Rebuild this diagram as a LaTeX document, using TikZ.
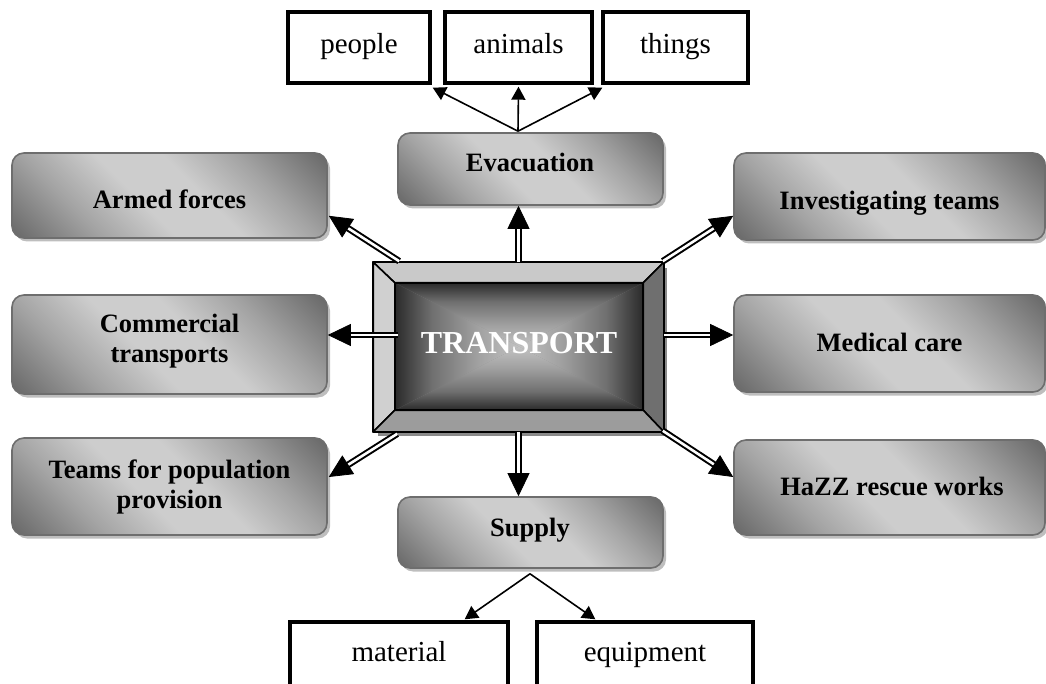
\documentclass[tikz,border=0pt]{standalone}
\usepackage{fontspec}
\setmainfont{Liberation Serif}
\usetikzlibrary{calc,shadows,arrows.meta}

% greys of the rounded tiles
\definecolor{tiledark}{HTML}{686868}
\definecolor{tilemid}{HTML}{A4A4A4}
\definecolor{tilelight}{HTML}{CDCDCD}
\definecolor{tileedge}{HTML}{6E6E6E}
\definecolor{tileshadow}{HTML}{BEBEBE}
% greys of the bevelled hub
\definecolor{corelight}{HTML}{C2C2C2}
\definecolor{coremidA}{HTML}{A0A0A0}
\definecolor{coremidB}{HTML}{707070}
\definecolor{coredark}{HTML}{2A2A2A}
\definecolor{bevtop}{HTML}{C9C9C9}
\definecolor{bevleft}{HTML}{D0D0D0}
\definecolor{bevright}{HTML}{6F6F6F}
\definecolor{bevbottom}{HTML}{9C9C9C}
\definecolor{hubshadow}{HTML}{8A8A8A}

% dark - light - dark band, used diagonally on the tiles
\pgfdeclareverticalshading{tileshade}{100bp}{color(0bp)=(tiledark); color(15bp)=(tiledark);
  color(31bp)=(tilemid); color(44bp)=(tilelight); color(56bp)=(tilelight);
  color(69bp)=(tilemid); color(85bp)=(tiledark); color(100bp)=(tiledark)}
% light centre to dark rim, one quarter of the hub face
\pgfdeclareverticalshading{coreshade}{100bp}{color(0bp)=(corelight); color(25bp)=(corelight);
  color(42bp)=(coremidA); color(60bp)=(coremidB); color(75bp)=(coredark); color(100bp)=(coredark)}

\newcommand\tilefont{\fontsize{26.5}{30}\selectfont\bfseries}
\newcommand\leaffont{\fontsize{29}{33}\selectfont}
\newcommand\hubfont{\fontsize{32}{36}\selectfont\bfseries}

\begin{document}
\begin{tikzpicture}[x=1pt,y=-1pt,
  tile/.style={shape=rectangle, rounded corners=12pt, draw=tileedge, line width=1.6pt,
    shade, shading=tileshade, shading angle=-45,
    drop shadow={shadow xshift=3pt, shadow yshift=-3.5pt, fill=tileshadow, opacity=1},
    inner sep=0pt},
  tiletext/.style={font=\tilefont, align=center, inner sep=0pt, text=black},
  leaf/.style={draw=black, line width=3.4pt, fill=white, inner sep=0pt, font=\leaffont,
    text height=20pt, text depth=7pt},
  bevel/.style={draw=black, line width=1.6pt, line join=round},
  twin/.style={draw=black, double=white, line width=2pt, double distance=2.6pt, shorten >=22pt},
  twintip/.style={draw=black, line width=0.8pt, -{Triangle[length=23pt,width=22pt]}},
  thin/.style={draw=black, line width=1.6pt, -{Triangle[length=13pt,width=14pt]}},
]
\useasboundingbox (0,0) rectangle (1046,684);
\clip (0,0) rectangle (1046,684);

% outlined leaf boxes
\node[leaf, minimum width=142pt, minimum height=71pt] (people)  at (359,47.5)   {people};
\node[leaf, minimum width=147pt, minimum height=71pt] (animals) at (518.5,47.5) {animals};
\node[leaf, minimum width=145pt, minimum height=71pt] (things)  at (675.5,47.5) {things};
\node[leaf, minimum width=218pt, minimum height=66pt] (material)  at (399,655) {material};
\node[leaf, minimum width=216pt, minimum height=66pt] (equipment) at (645,655) {equipment};

% shaded tiles
\node[tile, minimum width=315pt, minimum height=85pt] (armed)         at (169.5,195.5) {};
\node[tile, minimum width=315pt, minimum height=99pt] (commercial)    at (169.5,344.5) {};
\node[tile, minimum width=315pt, minimum height=97pt] (teams)         at (169.5,486.5) {};
\node[tile, minimum width=311pt, minimum height=87pt] (investigating) at (889.5,196.5) {};
\node[tile, minimum width=311pt, minimum height=97pt] (medical)       at (889.5,343.5) {};
\node[tile, minimum width=311pt, minimum height=95pt] (hazz)          at (889.5,487.5) {};
\node[tile, minimum width=265pt, minimum height=72pt] (evac)          at (530.5,169)   {};
\node[tile, minimum width=265pt, minimum height=71pt] (supply)        at (530.5,532.5) {};

\node[tiletext, anchor=base] (armed-t)         at (169.5,209) {Armed forces};
\node[tiletext]              (commercial-t)    at (169.5,341.5) {Commercial\\transports};
\node[tiletext]              (teams-t)         at (169.5,486.5) {Teams for population\\provision};
\node[tiletext, anchor=base] (investigating-t) at (889.5,210) {Investigating teams};
\node[tiletext, anchor=base] (medical-t)       at (889.5,351) {Medical care};
\node[tiletext, anchor=base] (hazz-t)          at (892,495) {HaZZ rescue works};
\node[tiletext, anchor=base] (evac-t)          at (530,172) {Evacuation};
\node[tiletext, anchor=base] (supply-t)        at (530,536) {Supply};

% bevelled hub
\node[draw=black, line width=1.6pt, minimum width=289pt, minimum height=168pt, inner sep=0pt,
  drop shadow={shadow xshift=4pt, shadow yshift=-5pt, fill=hubshadow, opacity=1}] (hub) at (518.5,347) {};
\node[inner sep=0pt, minimum width=248pt, minimum height=127pt] (core) at (519,346.5) {};
\filldraw[bevel, fill=bevtop]    (hub.north west) -- (hub.north east) -- (core.north east) -- (core.north west) -- cycle;
\filldraw[bevel, fill=bevleft]   (hub.north west) -- (hub.south west) -- (core.south west) -- (core.north west) -- cycle;
\filldraw[bevel, fill=bevright]  (hub.north east) -- (hub.south east) -- (core.south east) -- (core.north east) -- cycle;
\filldraw[bevel, fill=bevbottom] (hub.south west) -- (hub.south east) -- (core.south east) -- (core.south west) -- cycle;
\shade[shading=coreshade]                     (core.north west) -- (core.north east) -- (core.center) -- cycle;
\shade[shading=coreshade, shading angle=180]  (core.south west) -- (core.south east) -- (core.center) -- cycle;
\shade[shading=coreshade, shading angle=90]   (core.north west) -- (core.south west) -- (core.center) -- cycle;
\shade[shading=coreshade, shading angle=-90]  (core.north east) -- (core.south east) -- (core.center) -- cycle;
\draw[bevel] (core.north west) rectangle (core.south east);
\draw[bevel] (hub.north west) rectangle (hub.south east);
\node[font=\hubfont, text=white, anchor=base, inner sep=0pt] (hub-t) at (519,353) {TRANSPORT};

% double arrows from the hub
\newcommand\twinarrow[2]{%
  \draw[twin] #1 -- #2;
  \draw[twintip] ($#2!22pt!#1$) -- #2;}
\twinarrow{(hub.north)}{(hub.north |- evac.south)}
\twinarrow{(hub.south)}{(hub.south |- supply.north)}
\twinarrow{($(hub.north west)+(26,-1)$)}{($(armed.south east)+(1,-23)$)}
\twinarrow{($(hub.north east)+(-1,-1)$)}{($(investigating.south west)+(0,-25)$)}
\twinarrow{($(core.west)+(3,-11.5)$)}{($(commercial.east)+(0,-9.5)$)}
\twinarrow{($(hub.east)+(0,-12)$)}{($(medical.west)+(0,-8.5)$)}
\twinarrow{($(hub.south west)+(24,2)$)}{($(teams.east)+(1,-9.5)$)}
\twinarrow{($(hub.south east)+(-1,-1)$)}{($(hazz.west)+(0,-10.5)$)}

% single arrows to the leaf boxes
\draw[thin] ($(evac.north)+(-12.5,-1)$) -- ($(people.south east)+(1,3)$);
\draw[thin] ($(evac.north)+(-12.5,-1)$) -- ($(animals.south)+(0,2)$);
\draw[thin] ($(evac.north)+(-12.5,-1)$) -- ($(things.south west)+(1,3)$);
\draw[thin] ($(supply.south)+(-0.5,5)$) -- ($(material.north east)+(-45,-1)$);
\draw[thin] ($(supply.south)+(-0.5,5)$) -- ($(equipment.north west)+(60,-1)$);
\end{tikzpicture}
\end{document}
